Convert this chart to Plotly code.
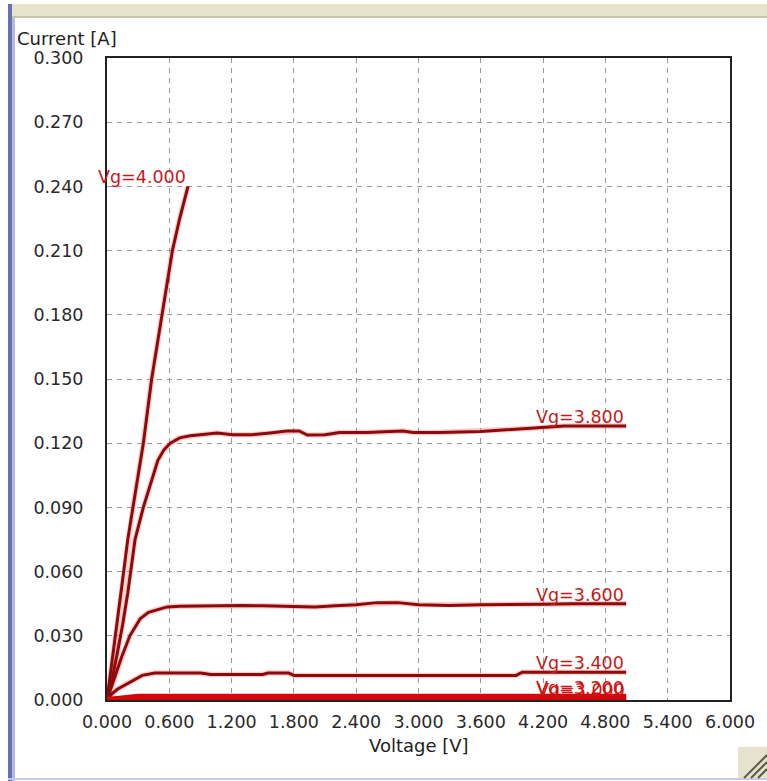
import plotly.graph_objects as go

# ---------------- data ----------------
vg4_v = [0, 0.05, 0.1, 0.15, 0.2, 0.25, 0.3, 0.35, 0.43, 0.53, 0.63, 0.7, 0.78]
vg4_i = [0, 0.018, 0.037, 0.056, 0.075, 0.09, 0.105, 0.12, 0.15, 0.18, 0.21, 0.225, 0.24]

vg38_v = [0, 0.05, 0.1, 0.15, 0.2, 0.27, 0.35, 0.43, 0.49, 0.55, 0.61, 0.7, 0.8, 0.9, 1.06,
          1.21, 1.4, 1.57, 1.73, 1.85, 1.93, 2.1, 2.24, 2.5, 2.85, 2.95, 3.2, 3.6, 3.9, 4.1, 4.4, 5.0]
vg38_i = [0, 0.01, 0.022, 0.035, 0.05, 0.075, 0.09, 0.103, 0.112, 0.117, 0.12, 0.1225, 0.1235, 0.124, 0.1248,
          0.124, 0.124, 0.1248, 0.1257, 0.1257, 0.1238, 0.124, 0.125, 0.125, 0.1257, 0.125, 0.125, 0.1255, 0.1265, 0.127, 0.128, 0.128]

vg36_v = [0, 0.05, 0.1, 0.14, 0.22, 0.32, 0.4, 0.5, 0.58, 0.7, 0.9, 1.1, 1.3, 1.5, 1.8, 2.0,
          2.2, 2.4, 2.6, 2.8, 3.0, 3.3, 3.6, 3.9, 4.2, 4.5, 5.0]
vg36_i = [0, 0.007, 0.014, 0.02, 0.03, 0.038, 0.041, 0.0425, 0.0435, 0.0438, 0.044, 0.0442, 0.0442, 0.044, 0.0438, 0.0435,
          0.044, 0.0445, 0.0455, 0.0455, 0.0445, 0.0442, 0.0445, 0.0448, 0.0448, 0.045, 0.045]

vg34_v = [0, 0.05, 0.1, 0.22, 0.34, 0.46, 0.9, 1.0, 1.5, 1.55, 1.75, 1.8, 3.94, 4.0, 5.0]
vg34_i = [0, 0.003, 0.005, 0.0084, 0.0115, 0.0126, 0.0126, 0.0119, 0.0119, 0.0126, 0.0126, 0.0115, 0.0115, 0.013, 0.013]

vg32_v = [0, 0.3, 5.0]
vg32_i = [0, 0.0015, 0.0015]
vg30_v = [0, 0.3, 5.0]
vg30_i = [0, 0.0005, 0.0005]

upper_curves = [("Vg=4.000", vg4_v, vg4_i), ("Vg=3.800", vg38_v, vg38_i),
                ("Vg=3.600", vg36_v, vg36_i), ("Vg=3.400", vg34_v, vg34_i)]
lower_curves = [("Vg=3.200", vg32_v, vg32_i), ("Vg=3.000", vg30_v, vg30_i)]

x_ticks = [0, 0.6, 1.2, 1.8, 2.4, 3.0, 3.6, 4.2, 4.8, 5.4, 6.0]
y_ticks = [0, 0.03, 0.06, 0.09, 0.12, 0.15, 0.18, 0.21, 0.24, 0.27, 0.30]

# ---------------- layout geometry ----------------
W, H = 767, 781
L, R, T, B = 107, 37, 58, 81
PW, PH = W - L - R, H - T - B

def px(x):
    return (x - L) / PW

def py(y):
    return (H - B - y) / PH

FONT = "DejaVu Sans"
LINE_DARK = "#8e0a0a"
HALO = "rgba(240,110,110,0.35)"
LABEL_RED = "#c41a1a"

fig = go.Figure()

for name, v, i in upper_curves:
    fig.add_trace(go.Scatter(x=v, y=i, mode="lines", line=dict(color=HALO, width=5.5),
                             hoverinfo="skip", showlegend=False))
for name, v, i in upper_curves:
    fig.add_trace(go.Scatter(x=v, y=i, mode="lines", line=dict(color=LINE_DARK, width=3),
                             name=name, showlegend=False))
for name, v, i in lower_curves:
    fig.add_trace(go.Scatter(x=v, y=i, mode="lines", line=dict(color="#d40808", width=6),
                             name=name, showlegend=False))

annotations = []
for name, v, i in upper_curves:
    annotations.append(dict(x=v[-1], y=i[-1], text=name, showarrow=False, xanchor="right",
                            yanchor="bottom", xshift=0, yshift=-3,
                            font=dict(family=FONT, size=17.5, color=LABEL_RED)))
for k, (name, v, i) in enumerate(lower_curves):
    annotations.append(dict(x=v[-1], y=i[-1], text=name, showarrow=False, xanchor="right",
                            yanchor="bottom", xshift=k, yshift=-3,
                            font=dict(family=FONT, size=17.5, color="#d01010")))

annotations.append(dict(xref="paper", yref="paper", x=px(15), y=py(39), text="Current [A]",
                        showarrow=False, xanchor="left", yanchor="middle",
                        font=dict(family=FONT, size=18, color="#222222")))
annotations.append(dict(xref="paper", yref="paper", x=0.5, y=py(745), text="Voltage [V]",
                        showarrow=False, xanchor="center", yanchor="middle",
                        font=dict(family=FONT, size=18, color="#222222")))

shapes = [
    # top beige title strip
    dict(type="rect", xref="paper", yref="paper", x0=px(9), x1=px(767), y0=py(4), y1=py(16),
         fillcolor="#e8e4cc", line=dict(width=0), layer="below"),
    dict(type="rect", xref="paper", yref="paper", x0=px(9), x1=px(767), y0=py(16), y1=py(18),
         fillcolor="#c9c4a4", line=dict(width=0), layer="below"),
    # left blue stripe
    dict(type="rect", xref="paper", yref="paper", x0=px(8), x1=px(12), y0=py(4), y1=py(781),
         fillcolor="#6870b4", line=dict(width=0), layer="below"),
    dict(type="rect", xref="paper", yref="paper", x0=px(12), x1=px(15), y0=py(18), y1=py(781),
         fillcolor="#b6bae4", line=dict(width=0), layer="below"),
    # bottom light blue line
    dict(type="rect", xref="paper", yref="paper", x0=px(8), x1=px(767), y0=py(778), y1=py(780),
         fillcolor="#c4cbe8", line=dict(width=0), layer="below"),
    # resize grip
    dict(type="rect", xref="paper", yref="paper", x0=px(738), x1=px(767), y0=py(747), y1=py(778),
         fillcolor="#e6e2cc", line=dict(width=0), layer="below"),
]
for d in (9, 16, 23):
    shapes.append(dict(type="line", xref="paper", yref="paper",
                       x0=px(767), y0=py(778 - d), x1=px(767 - d), y1=py(778),
                       line=dict(color="#5f5b48", width=2)))

fig.update_layout(
    width=W, height=H,
    margin=dict(l=L, r=R, t=T, b=B, pad=0),
    paper_bgcolor="white", plot_bgcolor="white",
    showlegend=False,
    annotations=annotations,
    shapes=shapes,
    font=dict(family=FONT, size=17.5, color="#2a2a2a"),
    xaxis=dict(range=[0, 6], tickvals=x_ticks, tickformat=".3f", showgrid=True,
               gridcolor="#9a9a9a", griddash="5px,5px", gridwidth=1, zeroline=False,
               showline=True, linecolor="#222222", linewidth=2, mirror=True,
               ticks="", ticklabelstandoff=5, tickfont=dict(family=FONT, size=17.5, color="#2a2a2a")),
    yaxis=dict(range=[0, 0.3], tickvals=y_ticks, tickformat=".3f", showgrid=True,
               gridcolor="#9a9a9a", griddash="5px,5px", gridwidth=1, zeroline=False,
               showline=True, linecolor="#222222", linewidth=2, mirror=True,
               ticks="", ticklabelstandoff=18, tickfont=dict(family=FONT, size=17.5, color="#2a2a2a")),
)

fig.write_html("out.html")
